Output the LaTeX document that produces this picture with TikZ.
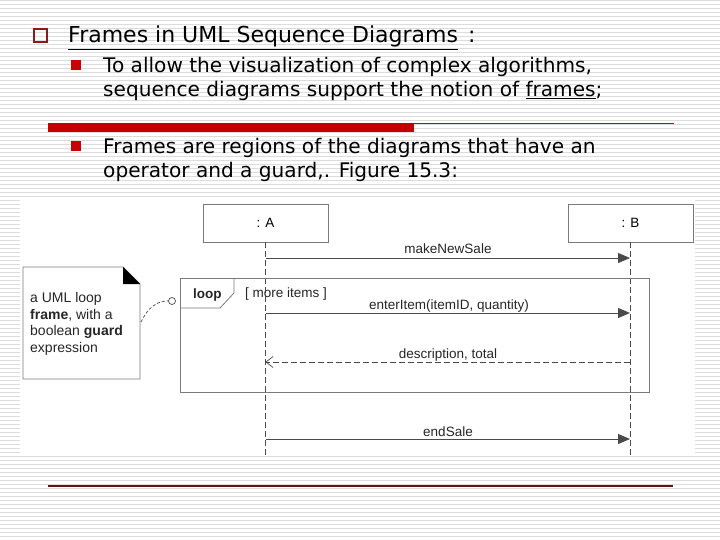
\documentclass[tikz,border=0pt]{standalone}
\usepackage{fontspec}
\setmainfont{Liberation Sans}
\newfontfamily\slidefont{DejaVu Sans}
\usetikzlibrary{arrows.meta}
\definecolor{stripecol}{HTML}{DCDCDC}
\definecolor{titlered}{HTML}{8B1A1A}
\definecolor{bulred}{HTML}{CC0000}
\definecolor{barred}{HTML}{C40000}
\definecolor{thinred}{HTML}{9B1B1B}
\definecolor{bottomred}{HTML}{5E1515}
\definecolor{umlgray}{HTML}{7A7A7A}
\definecolor{msggray}{HTML}{4A4A4A}
\tikzset{
  slidetext/.style={inner sep=0pt, anchor=base west, font=\slidefont\fontsize{20.1}{24}\selectfont},
  titletext/.style={inner sep=0pt, anchor=base west, font=\slidefont\fontsize{22}{26}\selectfont},
  lbox/.style={draw=umlgray, fill=white, line width=0.8pt, minimum width=125pt, minimum height=38pt, inner sep=0pt, font=\fontsize{13.5}{16}\selectfont},
  life/.style={draw=msggray, line width=1pt, dash pattern=on 6pt off 3pt},
  msg/.style={draw=msggray, line width=0.8pt, -{Triangle[length=12pt,width=10pt]}},
  ret/.style={draw=msggray, line width=0.8pt, dash pattern=on 6pt off 3pt, -{Straight Barb[length=7pt,width=11pt,line width=0.7pt]}},
  lbl/.style={inner sep=0pt, anchor=base, font=\fontsize{13.5}{16}\selectfont, text=black!85},
  notetext/.style={inner sep=0pt, anchor=base west, font=\fontsize{14}{16}\selectfont, text=black!85},
}
\begin{document}
\begin{tikzpicture}[x=1pt,y=-1pt]
\useasboundingbox (0,0) rectangle (720,540);
\fill[white] (0,0) rectangle (720,540);
\foreach \k in {0,...,134} \draw[stripecol, line width=1pt] (0,4*\k+0.5) -- (720,4*\k+0.5);

% title
\draw[titlered, line width=2.5pt] (34,29) rectangle (47,42);
\node[titletext] (title) at (68,43) {\underline{Frames in UML Sequence Diagrams}};
\node[titletext] (colon) at (468,43) {:};

% bullet 1
\fill[bulred] (71,60) rectangle (81,70);
\node[slidetext] (b1a) at (103,73) {To allow the visualization of complex algorithms,};
\node[slidetext] (b1b) at (103,97) {sequence diagrams support the notion of \underline{frames};};

% red bar
\fill[barred] (48,123) rectangle (414,132);
\draw[thinred, line width=1pt] (414,124) -- (674,124);

% bullet 2
\fill[bulred] (71,141) rectangle (81,151);
\node[slidetext] (b2a) at (103,154) {Frames are regions of the diagrams that have an};
\node[slidetext] (b2b) at (103,178) {operator and a guard,. Figure 15.3:};

% figure area
\fill[white] (20,200) rectangle (695,455);

% lifelines
\node[lbox] (A) at (265.5,223) {: A};
\node[lbox] (B) at (630.5,223) {: B};
\coordinate (Aend) at (265.5,455);
\coordinate (Bend) at (630,455);
\draw[life] (A.south) -- (Aend);
\draw[life] (B.south -| Bend) -- (Bend);

% loop frame
\draw[umlgray, line width=0.8pt] (180,278) rectangle (649,392);
\draw[umlgray, line width=0.8pt] (180,308) -- (220,308) -- (234,293) -- (234,278);
\node[notetext, font=\bfseries\fontsize{13.5}{16}\selectfont] (loop) at (193,298) {loop};
\node[notetext, font=\fontsize{13.5}{16}\selectfont] (guard) at (245,297) {[ more items ]};

% messages
\coordinate (a1) at (265.5,258); \coordinate (b1) at (630,258);
\coordinate (a2) at (265.5,313); \coordinate (b2) at (630,313);
\coordinate (a3) at (265.5,362); \coordinate (b3) at (630,362);
\coordinate (a4) at (265.5,439); \coordinate (b4) at (630,439);
\draw[msg] (a1) -- (b1);
\node[lbl] (m1) at (448,254) {makeNewSale};
\draw[msg] (a2) -- (b2);
\node[lbl] (m2) at (449,309) {enterItem(itemID, quantity)};
\draw[ret] (b3) -- (a3);
\node[lbl] (m3) at (448,358) {description, total};
\draw[msg] (a4) -- (b4);
\node[lbl] (m4) at (448,436) {endSale};

% note
\draw[umlgray, fill=white, line width=0.8pt] (23,267) -- (123,267) -- (140,284) -- (140,379) -- (23,379) -- cycle;
\fill[black] (123,267) -- (123,284) -- (140,284) -- cycle;
\node[notetext] (n1) at (30,302) {a UML loop};
\node[notetext] (n2) at (30,319) {\textbf{frame}, with a};
\node[notetext] (n3) at (30,335) {boolean \textbf{guard}};
\node[notetext] (n4) at (30,352) {expression};
\coordinate (nr) at (141,322);
\node[circle, draw=msggray, fill=white, line width=0.7pt, minimum size=7pt, inner sep=0pt] (ring) at (172,301) {};
\draw[msggray, line width=0.7pt, dash pattern=on 3pt off 2pt] (nr) .. controls (148,308) and (156,301) .. (ring.west);

% bottom line
\draw[bottomred, line width=1.2pt] (48,486) -- (673,486);
\end{tikzpicture}
\end{document}
